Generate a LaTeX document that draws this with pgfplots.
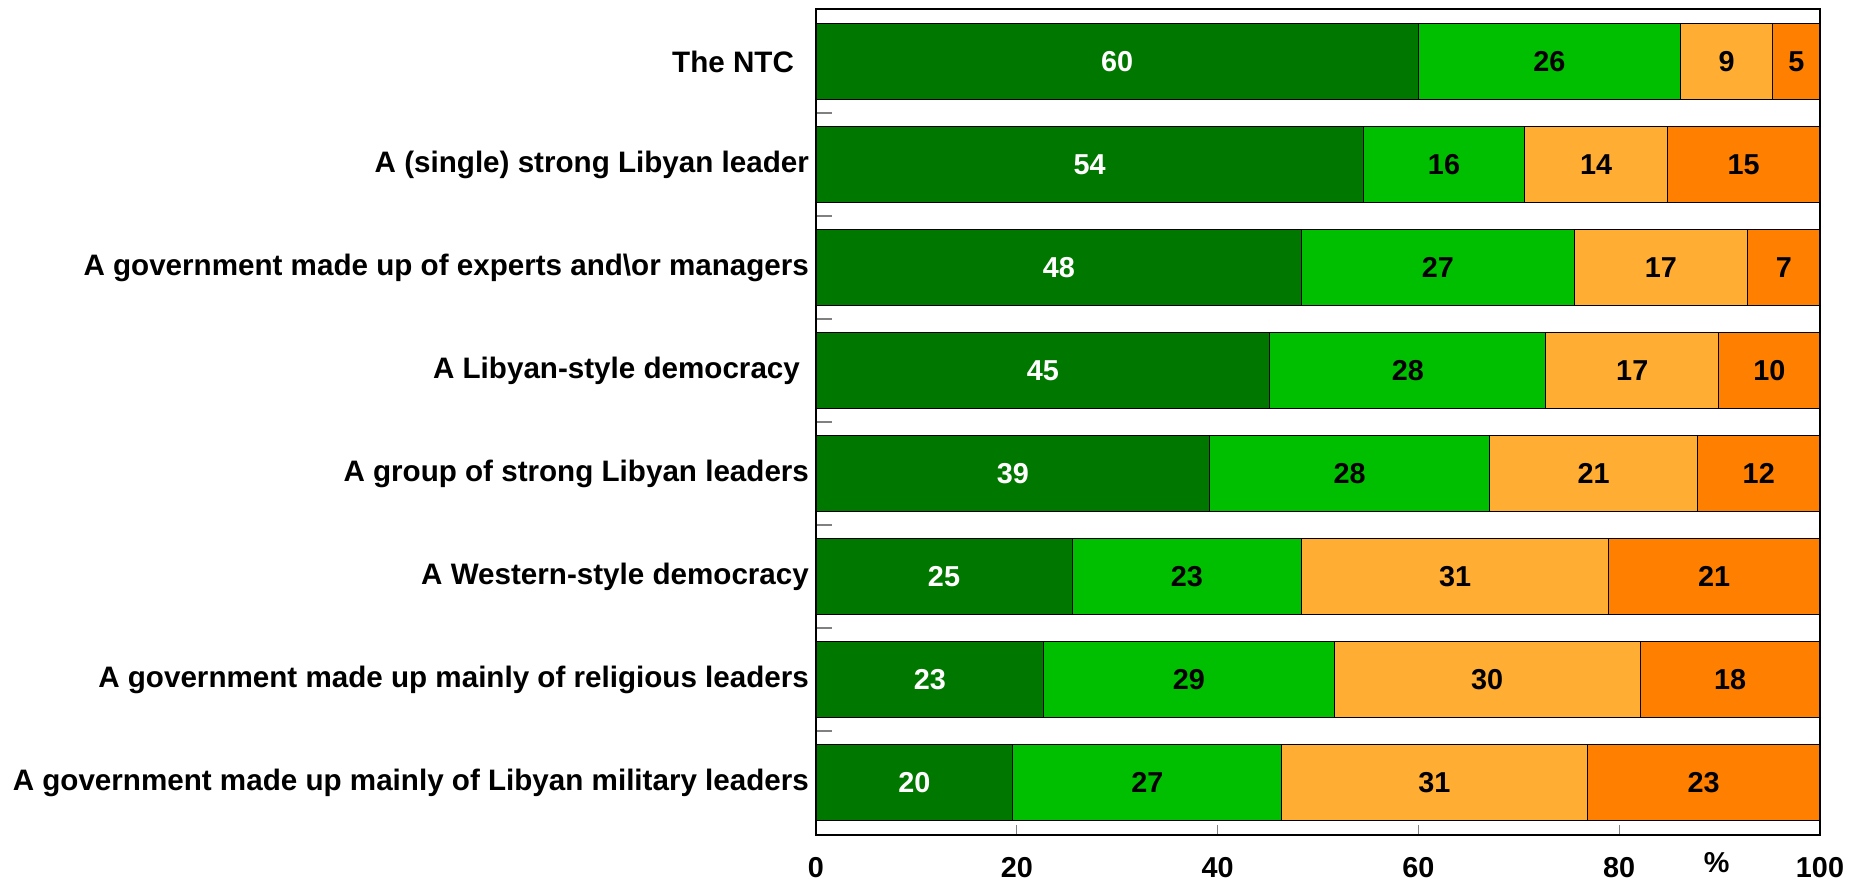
\documentclass[border=0pt]{standalone}
\usepackage{pgfplots}
\pgfplotsset{compat=1.18}
\usepackage{pgfplotstable}
\usepackage{fontspec}
\setmainfont{Liberation Sans}
\definecolor{dg}{RGB}{0,120,0}
\definecolor{lg}{RGB}{0,190,0}
\definecolor{lo}{RGB}{255,173,51}
\definecolor{do}{RGB}{255,128,0}
\pgfplotstableread{
y a b c d la lb lc ld
0 60.0 26.1 9.2 4.7 60 26 9 5
1 54.5 16.1 14.2 15.2 54 16 14 15
2 48.4 27.1 17.3 7.2 48 27 17 7
3 45.2 27.5 17.2 10.1 45 28 17 10
4 39.2 27.9 20.7 12.2 39 28 21 12
5 25.5 22.9 30.5 21.1 25 23 31 21
6 22.7 28.9 30.5 17.9 23 29 30 18
7 19.6 26.8 30.4 23.2 20 27 31 23
}\data
\newcommand{\lf}{\fontsize{14.4}{17}\selectfont\bfseries}
\newcommand{\cf}{\fontsize{14.8}{17}\selectfont\bfseries}
\begin{document}
\begin{tikzpicture}
\path[use as bounding box] (-408pt,-22.5pt) rectangle (517pt,417.5pt);
\begin{axis}[
  at={(0,0)}, anchor=south west,
  scale only axis, width=502pt, height=413pt,
  xmin=0, xmax=100, ymin=-0.51, ymax=7.51, y dir=reverse,
  axis on top,
  axis line style={line width=1.2pt, black},
  xtick={0,20,40,60,80,100},
  ytick={0,...,7},
  yticklabels={The NTC\hspace*{7.5pt},A (single) strong Libyan leader,A government made up of experts and\textbackslash or managers,A Libyan-style democracy\hspace*{4.5pt},A group of strong Libyan leaders,A Western-style democracy,A government made up mainly of religious leaders,A government made up mainly of Libyan military leaders},
  minor ytick={0.5,1.5,2.5,3.5,4.5,5.5,6.5},
  xtick pos=lower, ytick pos=left,
  tick align=inside,
  major tick length=5pt,
  minor tick length=8pt,
  major x tick style={gray, line width=0.7pt},
  major y tick style={draw=none},
  minor y tick style={gray, line width=0.7pt},
  /pgf/number format/assume math mode=true,
  xticklabel style={font=\lf, anchor=base, yshift=-21pt},
  yticklabel style={font=\cf},
  xlabel={\%},
  xlabel style={font=\lf, at={(axis description cs:0.897,0)}, anchor=base, yshift=-18.5pt},
  every node near coord/.append style={font=\lf, anchor=center},
]
\addplot[xbar, bar width=38pt, bar shift=0pt, fill=do, draw=black, line width=0.5pt] table[y=y, x expr=\thisrow{a}+\thisrow{b}+\thisrow{c}+\thisrow{d}] {\data};
\addplot[xbar, bar width=38pt, bar shift=0pt, fill=lo, draw=black, line width=0.5pt] table[y=y, x expr=\thisrow{a}+\thisrow{b}+\thisrow{c}] {\data};
\addplot[xbar, bar width=38pt, bar shift=0pt, fill=lg, draw=black, line width=0.5pt] table[y=y, x expr=\thisrow{a}+\thisrow{b}] {\data};
\addplot[xbar, bar width=38pt, bar shift=0pt, fill=dg, draw=black, line width=0.5pt] table[y=y, x=a] {\data};
\addplot[draw=none, mark=none, nodes near coords, point meta=explicit symbolic, every node near coord/.append style={text=white}] table[y=y, x expr=\thisrow{a}/2, meta=la] {\data};
\addplot[draw=none, mark=none, nodes near coords, point meta=explicit symbolic] table[y=y, x expr=\thisrow{a}+\thisrow{b}/2, meta=lb] {\data};
\addplot[draw=none, mark=none, nodes near coords, point meta=explicit symbolic] table[y=y, x expr=\thisrow{a}+\thisrow{b}+\thisrow{c}/2, meta=lc] {\data};
\addplot[draw=none, mark=none, nodes near coords, point meta=explicit symbolic] table[y=y, x expr=\thisrow{a}+\thisrow{b}+\thisrow{c}+\thisrow{d}/2, meta=ld] {\data};
\end{axis}
\end{tikzpicture}
\end{document}
